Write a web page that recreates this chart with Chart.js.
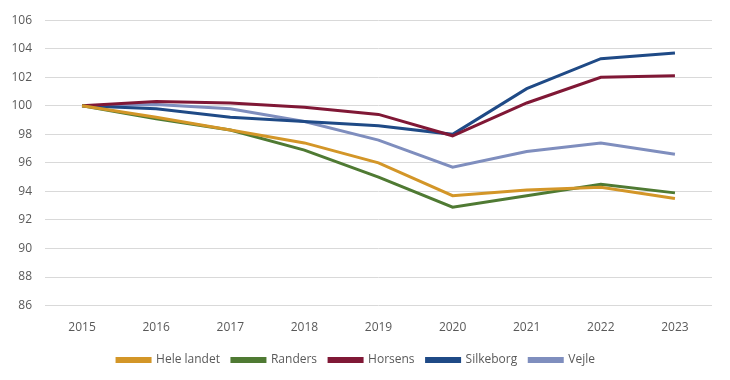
<!DOCTYPE html>
<html><head><meta charset="utf-8">
<script src="https://cdn.jsdelivr.net/npm/chart.js@4/dist/chart.umd.min.js"></script>
<style>html,body{margin:0;padding:0;background:#fff}#w{width:730px;height:380px}</style>
</head><body><div id="w"><canvas id="c"></canvas></div>
<script>
const years = ['2015','2016','2017','2018','2019','2020','2021','2022','2023'];
const heleLandet = [100, 99.2, 98.3, 97.4, 96.0, 93.7, 94.1, 94.3, 93.5];
const randers    = [100, 99.1, 98.3, 96.9, 95.0, 92.9, 93.7, 94.5, 93.9];
const horsens    = [100, 100.3, 100.2, 99.9, 99.4, 97.9, 100.2, 102.0, 102.1];
const silkeborg  = [100, 99.8, 99.2, 98.9, 98.6, 98.0, 101.2, 103.3, 103.7];
const vejle      = [100, 100.1, 99.8, 98.9, 97.6, 95.7, 96.8, 97.4, 96.6];
const seriesNames = ['Hele landet','Randers','Horsens','Silkeborg','Vejle'];
const seriesData = [heleLandet, randers, horsens, silkeborg, vejle];
const colors = ['#D39628','#4F7A33','#801836','#1F4A86','#7F8EBE'];

const font = {family: "'Open Sans', 'Liberation Sans', sans-serif", size: 12};
new Chart(document.getElementById('c'), {
  type: 'line',
  data: {
    labels: years,
    datasets: seriesNames.map((n, i) => ({
      label: n, data: seriesData[i], borderColor: colors[i], backgroundColor: colors[i],
      borderWidth: 3, pointRadius: 0, tension: 0, fill: false
    }))
  },
  options: {
    responsive: true, maintainAspectRatio: false, animation: false,
    layout: {padding: {left: 0, right: 18, top: 6, bottom: 4}},
    plugins: {
      tooltip: {enabled: false},
      legend: {position: 'bottom', labels: {boxWidth: 33, boxHeight: 3, color: '#595959', font: font, padding: 12}}
    },
    scales: {
      x: {offset: true, grid: {display: false}, border: {display: false},
          ticks: {color: '#595959', font: font, padding: 7}},
      y: {min: 86, max: 106, grid: {color: '#D9D9D9', drawTicks: false}, border: {display: false},
          ticks: {stepSize: 2, color: '#595959', font: font, padding: 13},
          afterFit: s => { s.width = 45; }}
    }
  }
});
</script></body></html>
